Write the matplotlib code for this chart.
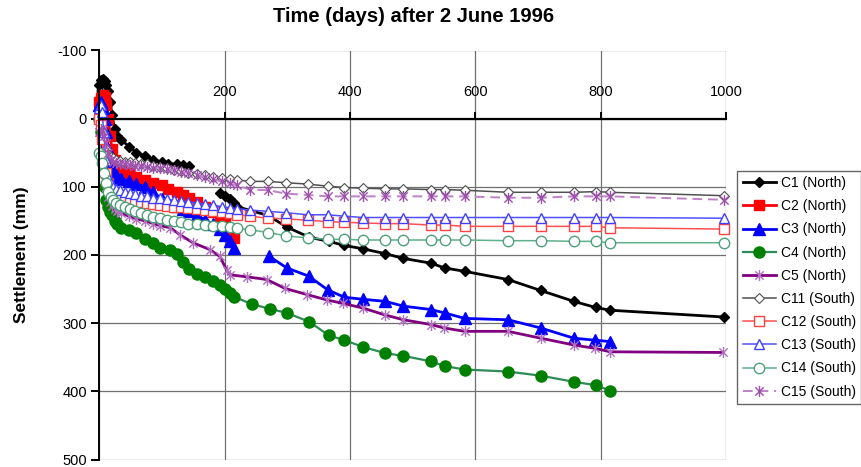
import numpy as np
import matplotlib
matplotlib.use('Agg')
import matplotlib.pyplot as plt
from matplotlib.path import Path

plt.rcParams['font.family'] = ['Liberation Sans', 'DejaVu Sans']
plt.rcParams['axes.unicode_minus'] = False

nan = np.nan

# --- north side plates ---
c1_days = [0, 2, 5, 8, 11, 14, 17, 20, 24, 28, 35, 47, 59, 73, 86, 99, 110, 123, 134, 143,
           170, 192, 200, 208, 214, 219, 269, 299, 335, 366, 391, 421, 456, 485, 529, 551,
           583, 652, 704, 757, 792, 815, 997]
c1_mm = [-50, -57, -58, -55, -50, -40, -25, -5, 15, 25, 31, 41, 50, 55, 60, 64, 66, 67, 68, 70,
         nan, 109, 114, 118, 124, 129, 142, 159, 174, 180, 186, 191, 198, 205, 212, 219,
         224, 236, 252, 268, 277, 281, 291]

c2_days = [0, 2, 5, 8, 11, 14, 17, 20, 24, 28, 35, 47, 59, 73, 86, 99, 110, 123, 134, 143,
           155, 168, 181, 192, 200, 208, 214]
c2_mm = [-25, -30, -35, -32, -20, 0, 25, 45, 60, 70, 76, 80, 86, 90, 95, 98, 103, 108, 112, 116,
         122, 130, 137, 143, 150, 163, 175]

c3_days = [0, 2, 5, 8, 11, 14, 17, 20, 24, 28, 35, 47, 59, 73, 86, 99, 110, 123, 134, 143,
           155, 168, 181, 192, 200, 208, 214, 240, 271, 299, 334, 364, 391, 421, 456, 485,
           529, 551, 583, 652, 704, 757, 791, 815]
c3_mm = [-20, -25, -15, 0, 20, 45, 65, 75, 80, 85, 88, 92, 96, 100, 108, 118, 124, 128, 132, 136,
         142, 148, 155, 162, 170, 180, 190, nan, 202, 219, 231, 251, 262, 265, 268, 275,
         280, 285, 293, 295, 307, 322, 325, 327]

c4_days = [0, 2, 5, 8, 11, 14, 17, 20, 24, 28, 35, 47, 59, 73, 86, 97, 113, 123, 134, 143,
           155, 168, 181, 192, 200, 208, 214, 243, 272, 299, 335, 366, 391, 421, 456, 485,
           529, 551, 583, 652, 704, 757, 792, 815]
c4_mm = [0, 20, 60, 100, 120, 130, 137, 142, 150, 155, 160, 164, 168, 176, 182, 190, 193, 198, 210, 220,
         228, 232, 238, 244, 250, 256, 261, 272, 279, 285, 298, 318, 325, 335, 344, 348,
         356, 363, 368, 371, 377, 386, 391, 399]

c5_days = [0, 2, 5, 8, 11, 14, 17, 20, 24, 28, 35, 47, 59, 73, 86, 97, 113, 128, 149, 176,
           192, 203, 208, 235, 267, 296, 331, 363, 389, 421, 456, 485, 529, 550, 583, 652,
           704, 757, 791, 815, 996]
c5_mm = [0, 20, 50, 80, 100, 115, 122, 128, 133, 136, 139, 143, 147, 150, 154, 157, 160, 170, 182, 192,
         202, 222, 229, 232, 236, 249, 258, 266, 271, 278, 288, 295, 302, 307, 312, 312,
         322, 332, 337, 342, 343]

# --- south side plates (all read on the same dates) ---
south_days = [0, 2, 4, 7, 10, 14, 18, 22, 27, 33, 40, 48, 57, 66, 76, 86, 97, 108, 119, 130,
              142, 155, 168, 181, 195, 208, 220, 240, 269, 298, 333, 364, 391, 421, 456, 485,
              529, 551, 583, 652, 704, 757, 792, 815, 997]
c11_mm = [0, 5, 15, 30, 45, 52, 56, 58, 60, 62, 63, 64, 65, 66, 67, 69, 71, 73, 75, 77,
          79, 81, 83, 85, 87, 89, 90, 92, 92, 94, 96, 99, 101, 102, 103, 103,
          104, 104, 105, 108, 108, 108, 107, 108, 113]
c12_mm = [0, 10, 30, 55, 80, 95, 105, 110, 113, 115, 117, 119, 121, 122, 124, 125, 127, 128, 129, 130,
          131, 133, 134, 135, 137, 139, 141, 143, 146, 147, 149, 151, 152, 153, 154, 154,
          156, 156, 158, 158, 158, 158, 158, 160, 162]
c13_mm = [-15, -20, -10, 20, 60, 85, 95, 100, 103, 105, 107, 109, 111, 113, 114, 116, 117, 118, 120, 121,
          122, 124, 125, 127, 129, 131, 132, 134, 136, 138, 141, 141, 143, 145, 145, 145,
          145, 145, 145, 145, 145, 145, 145, 145, 146]
c14_mm = [50, 55, 65, 80, 95, 108, 115, 120, 124, 127, 130, 133, 136, 139, 142, 144, 146, 148, 150, 152,
          154, 155, 156, 157, 158, 159, 161, 163, 167, 172, 175, 177, 177, 178, 178, 178,
          178, 178, 178, 179, 179, 180, 180, 182, 182]
c15_mm = [20, 15, 18, 25, 35, 50, 60, 63, 65, 66, 67, 68, 69, 70, 71, 72, 72, 74, 76, 78,
          80, 83, 86, 89, 92, 95, 98, 104, 105, 110, 112, 114, 114, 114, 114, 114,
          114, 114, 114, 116, 116, 114, 114, 114, 119]

x_ticks = [0, 200, 400, 600, 800, 1000]
y_ticks = [-100, 0, 100, 200, 300, 400, 500]

# Excel style asterisk: an X with a vertical bar through it
star = Path([(0, -1), (0, 1), (-0.75, -0.75), (0.75, 0.75), (-0.75, 0.75), (0.75, -0.75)],
            [Path.MOVETO, Path.LINETO, Path.MOVETO, Path.LINETO, Path.MOVETO, Path.LINETO])

series = [
    ('C1 (North)', c1_days, c1_mm,
     dict(color='black', lw=2, marker='D', ms=5.5, mfc='black', mec='black')),
    ('C2 (North)', c2_days, c2_mm,
     dict(color='#ff0000', lw=2, marker='s', ms=7, mfc='#ff0000', mec='#ff0000')),
    ('C3 (North)', c3_days, c3_mm,
     dict(color='#0000ff', lw=2, marker='^', ms=8, mfc='#0000ff', mec='#0000ff')),
    ('C4 (North)', c4_days, c4_mm,
     dict(color='#2e8b57', lw=1.6, marker='o', ms=8, mfc='#008000', mec='#008000')),
    ('C5 (North)', c5_days, c5_mm,
     dict(color='#800080', lw=2, marker=star, ms=8, mfc='none', mec='#b070c0', mew=1)),
    ('C11 (South)', south_days, c11_mm,
     dict(color='#505050', lw=1.1, marker='D', ms=4.8, mfc='white', mec='#505050', mew=0.8)),
    ('C12 (South)', south_days, c12_mm,
     dict(color='#ff5050', lw=1.1, marker='s', ms=7, mfc='white', mec='#ff4040', mew=1)),
    ('C13 (South)', south_days, c13_mm,
     dict(color='#5050ff', lw=1.1, marker='^', ms=7.5, mfc='white', mec='#4040ff', mew=1)),
    ('C14 (South)', south_days, c14_mm,
     dict(color='#5fb08a', lw=1.1, marker='o', ms=7.5, mfc='white', mec='#4fa07a', mew=1)),
    ('C15 (South)', south_days, c15_mm,
     dict(color='#c080c8', lw=1.4, ls=(0, (5, 3)), marker=star, ms=8, mfc='none', mec='#a050b0', mew=1)),
]

fig = plt.figure(figsize=(8.62, 4.67), dpi=100)
ax = fig.add_axes([99.5 / 862, 1 - 459.5 / 467, 626.5 / 862, 409 / 467])

handles = []
for label, days, mm, style in series:
    h, = ax.plot(days, mm, label=label, clip_on=False, **style)
    handles.append(h)

ax.set_xlim(0, 1000)
ax.set_ylim(500, -100)
ax.set_xticks(x_ticks)
ax.set_yticks(y_ticks)

# x axis sits on the zero-settlement line with its labels above
ax.spines['top'].set_position(('data', 0))
ax.spines['top'].set_linewidth(1.6)
ax.spines['left'].set_linewidth(1.4)
ax.spines['right'].set_visible(False)
ax.spines['bottom'].set_visible(False)
ax.xaxis.set_ticks_position('top')
ax.tick_params(axis='x', direction='out', length=5, width=1.4, pad=9, labelsize=10.5)
ax.tick_params(axis='y', direction='out', length=6, width=1.4, pad=3, labelsize=10.5)

ax.set_axisbelow(True)
ax.grid(True, color='#707070', lw=0.9)

fig.text(0.48, 1 - 17 / 467, 'Time (days) after 2 June 1996', ha='center', va='center',
         fontsize=14.5, fontweight='bold')
fig.text(22 / 862, 1 - 255 / 467, 'Settlement (mm)', ha='center', va='center',
         rotation=90, fontsize=12.5, fontweight='bold')

leg = fig.legend(handles=handles, loc='upper left', bbox_to_anchor=(737 / 862, 1 - 170.5 / 467),
                 frameon=True, fancybox=False, edgecolor='#404040', fontsize=10, numpoints=1,
                 handlelength=2.4, handletextpad=0.35, labelspacing=0.66, borderpad=0.4,
                 borderaxespad=0)
leg.get_frame().set_linewidth(1)

fig.savefig('out.png', dpi=100)
